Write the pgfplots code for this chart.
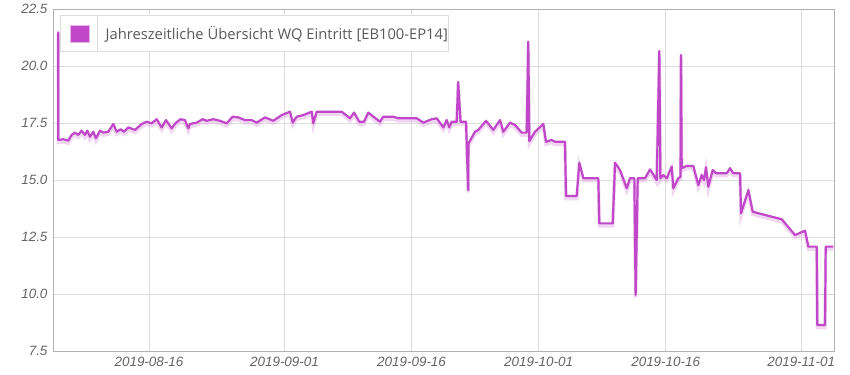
\documentclass[border=0pt]{standalone}
\usepackage{fontspec}
\setmainfont{Liberation Sans}
\newfontfamily\legfont{Open Sans}
\usepackage{pgfplots}
\pgfplotsset{compat=1.18}
\definecolor{linec}{RGB}{192,72,200}
\definecolor{gridc}{RGB}{221,221,221}
\definecolor{tickc}{RGB}{100,100,100}
\pgfplotstableread{
x y
-10.72 21.52
-10.70 16.77
-10.12 16.80
-9.53 16.74
-9.13 16.99
-8.74 17.09
-8.35 16.99
-7.95 17.18
-7.56 16.99
-7.28 17.18
-6.97 16.91
-6.58 17.13
-6.26 16.84
-5.79 17.18
-5.40 17.09
-4.81 17.13
-4.21 17.47
-3.81 17.13
-3.34 17.24
-2.95 17.13
-2.44 17.32
-1.65 17.21
-0.86 17.47
-0.27 17.57
0.32 17.50
0.91 17.68
1.50 17.32
2.01 17.64
2.68 17.28
3.19 17.53
3.74 17.68
4.25 17.64
4.64 17.28
4.84 17.47
5.63 17.53
6.34 17.68
6.81 17.61
7.59 17.68
8.38 17.61
9.17 17.50
9.88 17.79
10.54 17.76
11.33 17.64
12.13 17.64
12.72 17.53
13.70 17.76
14.68 17.61
15.67 17.86
16.65 18.01
16.97 17.53
17.44 17.79
18.22 17.86
19.21 18.01
19.40 17.50
19.80 18.01
22.75 18.01
23.73 17.72
24.21 17.97
24.83 17.57
25.38 17.57
25.89 17.97
27.27 17.57
27.66 17.79
28.84 17.79
29.43 17.72
31.61 17.72
32.38 17.53
33.38 17.68
33.97 17.72
34.75 17.32
35.15 17.64
35.45 17.32
35.74 17.57
36.33 17.57
36.50 19.32
36.78 17.57
37.43 17.57
37.68 14.57
37.72 16.62
38.49 17.13
38.88 17.21
39.79 17.61
40.65 17.21
41.44 17.64
41.83 17.13
42.62 17.53
43.21 17.43
44.00 17.09
44.59 17.09
44.78 21.08
44.90 16.72
45.57 17.13
46.55 17.47
46.87 16.69
47.54 16.77
47.93 16.69
49.11 16.69
49.23 14.31
50.50 14.31
50.80 15.77
51.28 15.09
53.05 15.09
53.16 13.11
54.75 13.11
55.02 15.77
55.61 15.45
56.40 14.65
56.79 15.09
57.30 15.09
57.45 9.97
57.70 15.09
58.56 15.09
59.15 15.48
59.94 15.01
60.25 20.68
60.37 15.09
60.72 15.23
61.12 15.09
61.71 15.60
61.90 14.65
62.49 15.09
62.75 15.16
62.81 20.50
62.89 15.53
63.48 15.63
64.26 15.63
64.85 14.79
65.25 15.23
65.53 15.01
65.76 15.57
66.03 14.72
66.55 15.45
66.94 15.31
68.21 15.31
68.60 15.53
68.98 15.31
69.78 15.31
69.89 13.55
70.76 14.57
71.27 13.62
74.70 13.29
76.27 12.60
77.45 12.79
77.84 12.09
78.83 12.09
78.90 8.65
79.81 8.65
79.89 12.09
80.79 12.09
}\wqdata
\begin{document}
\begin{tikzpicture}
\begin{axis}[
  at={(0,0)}, anchor=south west,
  scale only axis, width=781bp, height=342bp,
  xmin=-11.33, xmax=80.87, ymin=7.5, ymax=22.5,
  xtick={0,16,31,46,61,77},
  xticklabels={2019-08-16,2019-09-01,2019-09-16,2019-10-01,2019-10-16,2019-11-01},
  ytick={7.5,10,12.5,15,17.5,20,22.5},
  yticklabel style={/pgf/number format/fixed,/pgf/number format/fixed zerofill,/pgf/number format/precision=1},
  /pgf/number format/assume math mode=true,
  tick label style={font=\itshape\fontsize{13.5}{15}\selectfont, text=tickc},
  major tick length=0pt,
  xmajorgrids, ymajorgrids,
  major grid style={gridc, line width=0.8bp},
  axis line style={gridc!80!black, line width=0.8bp},
  xticklabel style={yshift=-2bp},
  yticklabel style={xshift=-2bp},
  legend style={at={(0.009,0.9825)}, anchor=north west, draw=gridc, line width=0.8bp,
    fill=white, inner xsep=0bp, inner ysep=0bp,
    font=\legfont\fontsize{14.8}{17}\selectfont, text=tickc!90!black,
    nodes={inner sep=0bp}},
  legend cell align=left,
  legend image code/.code={
    \path (0bp,0bp) -- (0bp,0bp);
    \draw[line width=0.8bp, fill=linec, draw=linec!40] (9bp,-8.5bp) rectangle (28bp,8.5bp);
    \draw[gridc, line width=0.8bp] (36bp,-17.5bp) -- (36bp,17.5bp);
    \path (43bp,0) -- (43bp,0);
  },
]
\addplot[draw=linec!45, line width=3.5bp, opacity=0.5, yshift=-2.5bp, forget plot] table {\wqdata};
\addplot[draw=linec, line width=2.2bp, line join=round] table {\wqdata};
\addlegendentry{Jahreszeitliche Übersicht WQ Eintritt [EB100-EP14]\hspace{8bp}}
\end{axis}
\pgfresetboundingbox
\path[use as bounding box] (-53bp,-23.7bp) rectangle (797bp,351.3bp);
\end{tikzpicture}
\end{document}
